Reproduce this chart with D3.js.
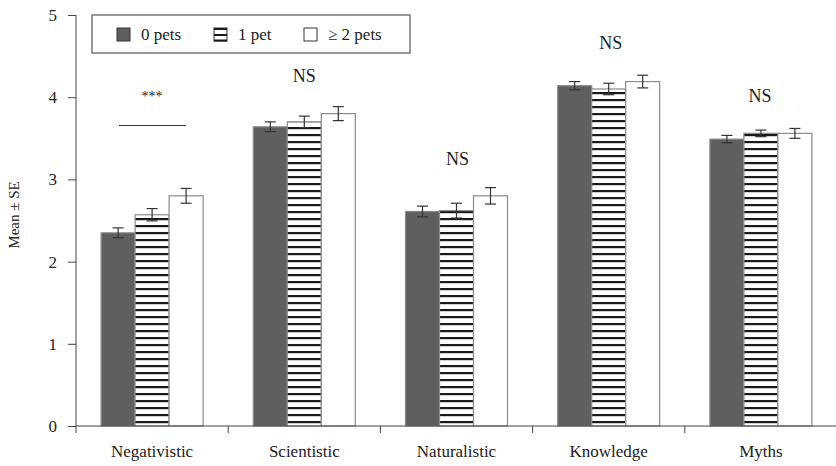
<!DOCTYPE html>
<html><head><meta charset="utf-8">
<script src="https://cdn.jsdelivr.net/npm/d3@7"></script>
<style>body{margin:0;background:#fff}svg{display:block}text{font-family:"Liberation Serif","DejaVu Serif",serif;fill:#222}</style>
</head><body><svg id="c" width="836" height="466"></svg>
<script>
const categories = ["Negativistic","Scientistic","Naturalistic","Knowledge","Myths"];
const seriesNames = ["0 pets","1 pet","\u2265 2 pets"];
const pets0 = [2.35, 3.64, 2.61, 4.14, 3.49];
const pets1 = [2.57, 3.70, 2.62, 4.10, 3.56];
const pets2 = [2.80, 3.80, 2.80, 4.19, 3.56];
const se0 = [0.06, 0.06, 0.065, 0.05, 0.045];
const se1 = [0.075, 0.07, 0.09, 0.07, 0.04];
const se2 = [0.09, 0.085, 0.10, 0.077, 0.06];
const sigLabels = ["***","NS","NS","NS","NS"];
const yTicks = [0,1,2,3,4,5];

const svg = d3.select("#c");
const x0 = 76, x1 = 837, yTop = 15, yBot = 426;
const x = d3.scaleBand().domain(categories).range([x0, x1]);
const xs = d3.scaleBand().domain([0,1,2]).range([0, 102]);
const y = d3.scaleLinear().domain([0,5]).range([yBot, yTop]);

const defs = svg.append("defs");
const pat = defs.append("pattern").attr("id","stripes").attr("patternUnits","userSpaceOnUse")
  .attr("width",8).attr("height",7).attr("y",1);
pat.append("rect").attr("width",8).attr("height",7).attr("fill","#fff");
pat.append("rect").attr("y",0).attr("width",8).attr("height",2.2).attr("fill","#1a1a1a");

const fills = ["#5f5f5f","url(#stripes)","#fff"];
const vals = [pets0, pets1, pets2];
const ses = [se0, se1, se2];

const data = [];
categories.forEach((c,i)=>{ [0,1,2].forEach(s=>data.push({c, s, v: vals[s][i], e: ses[s][i]})); });

const bx = d => x(d.c) + x.bandwidth()/2 - 51 + xs(d.s);

svg.selectAll("rect.bar").data(data).join("rect").attr("class","bar")
  .attr("x", d=>bx(d)).attr("width", xs.bandwidth())
  .attr("y", d=>y(d.v)).attr("height", d=>yBot - y(d.v))
  .attr("fill", d=>fills[d.s]).attr("stroke","#8a8a8a").attr("stroke-width",1.2);

// error bars
const eg = svg.append("g").attr("stroke","#333").attr("stroke-width",1.2);
data.forEach(d=>{
  const cx = bx(d) + xs.bandwidth()/2;
  eg.append("line").attr("x1",cx).attr("x2",cx).attr("y1",y(d.v+d.e)).attr("y2",y(d.v-d.e));
  eg.append("line").attr("x1",cx-5.5).attr("x2",cx+5.5).attr("y1",y(d.v+d.e)).attr("y2",y(d.v+d.e));
  eg.append("line").attr("x1",cx-5.5).attr("x2",cx+5.5).attr("y1",y(d.v-d.e)).attr("y2",y(d.v-d.e));
});

// axes
const yAxis = d3.axisLeft(y).tickValues(yTicks).tickSize(8).tickPadding(11).tickFormat(d3.format("d"));
const gy = svg.append("g").attr("transform",`translate(${x0},0)`).call(yAxis);
gy.select(".domain").attr("stroke","#444").attr("d",`M0,${yTop}V${yBot}`);
gy.selectAll(".tick line").attr("stroke","#444");
gy.selectAll(".tick text").attr("font-size",17).attr("fill","#222");

const xAxis = d3.axisBottom(x).tickSize(7).tickPadding(10);
const gx = svg.append("g").attr("transform",`translate(0,${yBot})`).call(xAxis);
gx.select(".domain").attr("stroke","#444").attr("d",`M${x0},0H${x1}`);
gx.selectAll(".tick line").attr("stroke","#444").attr("transform",`translate(${-x.bandwidth()/2},0)`);
gx.selectAll(".tick text").attr("font-size",17).attr("fill","#222").attr("y",31).attr("dy",0);

svg.append("text").attr("transform","translate(19,215) rotate(-90)").attr("text-anchor","middle")
  .attr("font-size",15).text("Mean \u00b1 SE");

// significance labels
const sigY = [101, 82, 165, 49, 101.5];
const sigDx = [0, 0, 1, 2, -1];
categories.forEach((c,i)=>{
  const cx = x(c) + x.bandwidth()/2 + sigDx[i];
  svg.append("text").attr("x",cx).attr("y",sigY[i]).attr("text-anchor","middle")
    .attr("font-size", i===0?14:18).text(sigLabels[i]);
});
svg.append("line").attr("x1",119).attr("x2",186).attr("y1",125.5).attr("y2",125.5).attr("stroke","#333").attr("stroke-width",1.2);

// legend
const lg = svg.append("g");
lg.append("rect").attr("x",92).attr("y",15).attr("width",318).attr("height",38).attr("fill","#fff").attr("stroke","#555").attr("stroke-width",1.2);
const lx = [117, 214, 304];
seriesNames.forEach((n,i)=>{
  lg.append("rect").attr("x",lx[i]).attr("y",28).attr("width",13).attr("height",13)
    .attr("fill", i===1 ? "#fff" : fills[i]).attr("stroke","#333").attr("stroke-width",1);
  if(i===1){
    [28,34,39.5].forEach(yy=>lg.append("rect").attr("x",lx[i]).attr("y",yy).attr("width",13).attr("height",2).attr("fill","#1a1a1a"));
  }
  lg.append("text").attr("x",lx[i]+24).attr("y",40).attr("font-size",17).text(n);
});
</script></body></html>
